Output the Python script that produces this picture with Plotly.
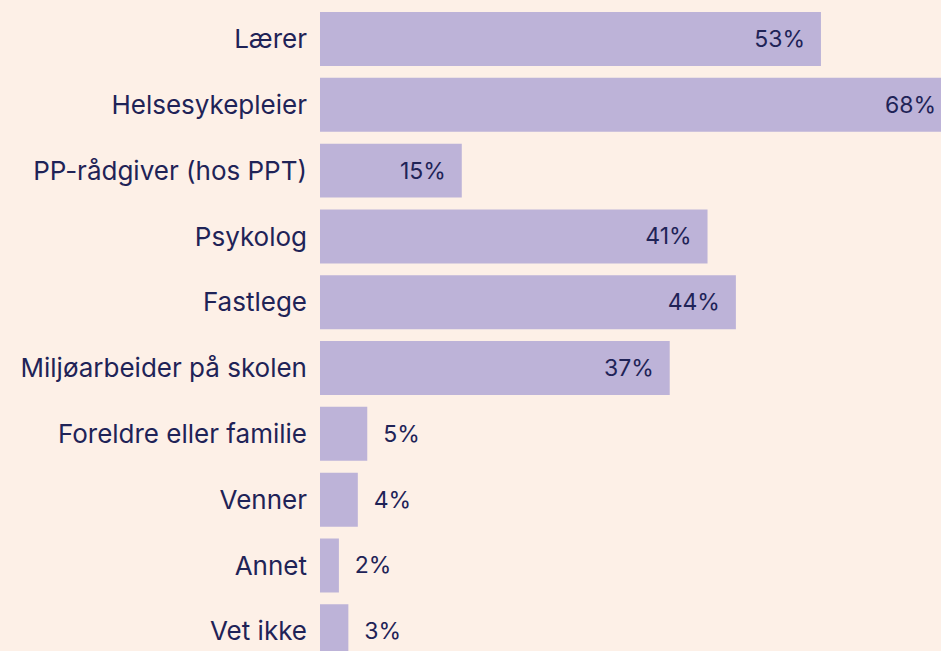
import plotly.graph_objects as go

categories = ["Lærer", "Helsesykepleier", "PP-rådgiver (hos PPT)", "Psykolog", "Fastlege",
              "Miljøarbeider på skolen", "Foreldre eller familie", "Venner", "Annet", "Vet ikke"]
values = [53, 68, 15, 41, 44, 37, 5, 4, 2, 3]

BG = "#fdf0e7"
BAR = "#bdb3d8"
INK = "#1f2357"
NB = "\u00a0"
XMAX = 65.7

positions = ["inside" if v >= 10 else "outside" for v in values]
texts = []
for v in values:
    if v < 10:
        texts.append(NB * 2 + f"{v}%")
    elif v <= XMAX:
        texts.append(f"{v}%" + NB * 2)
    else:
        # bar runs past the visible edge; keep its label inside the view
        texts.append(f"{v}%" + NB * 3 + "\u2009")

fig = go.Figure(go.Bar(
    x=values, y=categories, orientation="h",
    marker=dict(color=BAR, line=dict(width=0)),
    text=texts, textposition=positions, insidetextanchor="end",
    textfont=dict(family="Inter", size=23, color=INK),
    insidetextfont=dict(family="Inter", size=23, color=INK),
    outsidetextfont=dict(family="Inter", size=23, color=INK),
    cliponaxis=True, hoverinfo="skip",
))

fig.update_layout(
    width=941, height=651,
    margin=dict(l=320, r=0, t=0, b=0),
    paper_bgcolor=BG, plot_bgcolor=BG,
    bargap=0.18, showlegend=False,
    xaxis=dict(range=[0, XMAX], visible=False, fixedrange=True),
    yaxis=dict(range=[9.30, -0.593], categoryorder="array", categoryarray=categories,
               showgrid=False, zeroline=False, showline=False, ticks="",
               ticklabelstandoff=12,
               tickfont=dict(family="Inter", size=26, color=INK), fixedrange=True),
)

fig.write_html("out.html", config={"displayModeBar": False})
